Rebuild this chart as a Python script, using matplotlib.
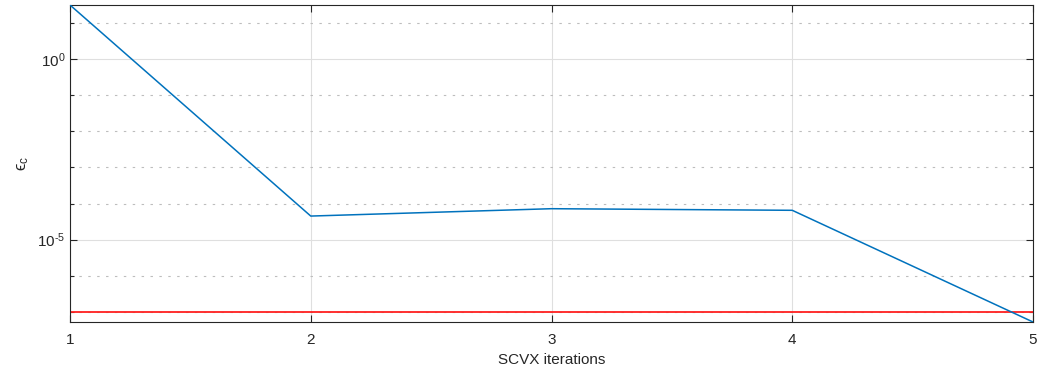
import numpy as np
import matplotlib
matplotlib.use("Agg")
import matplotlib.pyplot as plt
from matplotlib.ticker import NullFormatter, FixedLocator, FuncFormatter

plt.rcParams['font.family'] = ['Liberation Sans', 'DejaVu Sans']
plt.rcParams['mathtext.fontset'] = 'custom'
plt.rcParams['mathtext.rm'] = 'Liberation Sans'
plt.rcParams['mathtext.it'] = 'Liberation Sans'
plt.rcParams['mathtext.fallback'] = 'stixsans'
plt.rcParams['axes.unicode_minus'] = False

# convergence history
iterations = [1, 2, 3, 4, 5]
eps_c = [32.0, 4.5e-5, 7.2e-5, 6.5e-5, 5.2e-8]
tolerance = 1e-7

fig = plt.figure(figsize=(10.37, 3.79), dpi=100)
ax = fig.add_axes([70 / 1037, 1 - 322 / 379, 963 / 1037, 317 / 379])

ax.semilogy(iterations, eps_c, color='#0072BD', lw=1.1, zorder=3)
ax.axhline(tolerance, color='#FF2020', lw=1.3, zorder=2)

ax.set_xlim(min(iterations), max(iterations))
ax.set_ylim(min(eps_c), max(eps_c))
ax.set_xticks(iterations)
ax.yaxis.set_major_locator(FixedLocator([1e-5, 1e0]))
ax.yaxis.set_major_formatter(FuncFormatter(
    lambda v, p: r'$\mathregular{10^{\text{%d}}}$' % round(np.log10(v))))
ax.yaxis.set_minor_locator(FixedLocator([10.0 ** k for k in range(-8, 3)]))
ax.yaxis.set_minor_formatter(NullFormatter())

ax.grid(True, which='major', color='#DFDFDF', lw=0.8, zorder=0)
ax.grid(True, which='minor', axis='y', color='#BDBDBD', lw=0.8,
        linestyle=(0, (2.2, 5.8)), zorder=0)

for s in ax.spines.values():
    s.set_color('#262626')
    s.set_linewidth(0.8)
ax.tick_params(which='both', direction='in', top=True, right=True, colors='#262626',
               labelsize=11, width=0.8)
ax.tick_params(which='major', length=5)
ax.tick_params(which='minor', length=3)
ax.tick_params(axis='x', pad=8)

ax.set_xlabel('SCVX iterations', fontsize=11, color='#262626', labelpad=4)
ax.set_ylabel(r'$ϵ_{c}$', fontsize=12, color='#262626', labelpad=4)

fig.savefig('out.png', dpi=100)
